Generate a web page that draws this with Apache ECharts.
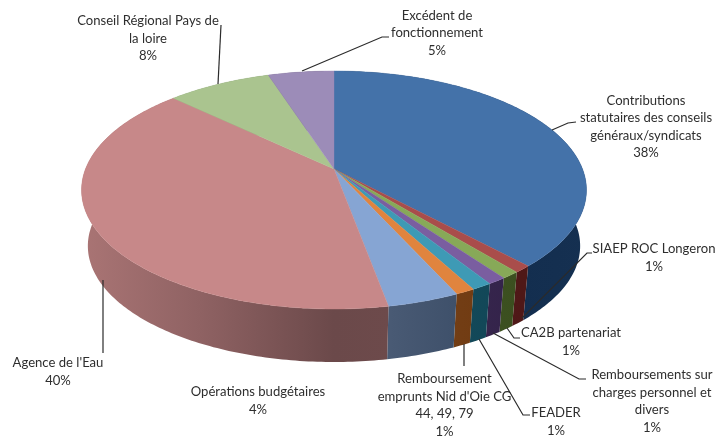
<!DOCTYPE html>
<html>
<head>
<meta charset="utf-8">
<style>
  html, body { margin: 0; padding: 0; background: #fff; }
  #chart { width: 715px; height: 436px; }
</style>
</head>
<body>
<div id="chart"></div>
<script src="https://cdn.jsdelivr.net/npm/echarts@6/dist/echarts.min.js"></script>
<script>
// data, clockwise from 12 o'clock
const categories = [
  'Contributions\nstatutaires des conseils\ngénéraux/syndicats',
  'SIAEP ROC Longeron',
  'CA2B partenariat',
  'Remboursements sur\ncharges personnel et\ndivers',
  'FEADER',
  "Remboursement\nemprunts Nid d'Oie CG\n44, 49, 79",
  'Opérations budgétaires',
  "Agence de l'Eau",
  'Conseil Régional Pays de\nla loire',
  'Excédent de\nfonctionnement'
]
const values = [38.1, 0.95, 1, 1, 1.1, 1.05, 3.9, 40, 7.9, 5]
const colors = ['#4472a9', '#a94d4b', '#87a958', '#7a5ea0', '#3e9ab5', '#e0843e', '#86a5d3', '#c78889', '#aac48f', '#9c8cb8']

// label centre and first line y, same order as categories
const labelPos = [
  [646, 100.5], [654, 249], [571, 333], [652, 375], [556, 413],
  [444.5, 379], [258, 392], [58, 363], [148, 21], [437, 15.5]
]
// leader lines are annotations, drawn in pixels
const leaders = [
  [[552, 130], [568, 123], [576, 122]],
  [[522, 318], [587, 253], [592, 253]],
  [[507, 328], [514, 338], [520, 338]],
  [[493, 333], [579, 379], [586, 379]],
  [[479, 339], [523, 415], [530, 415]],
  [[464, 344], [464, 366]],
  [[103, 280], [103, 353]],
  [[218, 84], [221, 25]],
  [[302, 71], [382, 37], [389, 37]]
]

// pie geometry: a tilted disc seen with some perspective
const cx = 334
const cy = 169
const R = 248.5
const B = 115.3
const K = 0.1765
const depth = 56.5
const baseScale = 0.975

const total = values.reduce((a, b) => a + b, 0)

function project(angle, isBase) {
  const u = Math.sin(angle)
  const v = Math.cos(angle)
  const w = 1 + K * v
  const s = isBase ? baseScale : 1
  return [cx + s * R * u / w, cy + (isBase ? depth : 0) - s * B * v / w]
}

function sliceAngles(i) {
  let before = 0
  for (let k = 0; k < i; k++) before += values[k]
  return [before / total * Math.PI * 2, (before + values[i]) / total * Math.PI * 2]
}

function rim(a0, a1, isBase) {
  const n = Math.max(2, Math.ceil((a1 - a0) / 0.015))
  const pts = []
  for (let k = 0; k <= n; k++) pts.push(project(a0 + (a1 - a0) * k / n, isBase))
  return pts
}

// side wall shading along x: [x, factor, offset]
const sideShade = [[85, 0.85, 0], [200, 0.72, 0], [334, 0.54, 0], [390, 0.56, 2], [460, 0.58, 16], [520, 0.6, 22], [590, 0.6, 20]]

function sideGradient(color) {
  const c = echarts.color.parse(color)
  const x0 = sideShade[0][0]
  const x1 = sideShade[sideShade.length - 1][0]
  const stops = sideShade.map(s => ({
    offset: (s[0] - x0) / (x1 - x0),
    color: 'rgb(' + [0, 1, 2].map(j => Math.max(0, Math.round(c[j] * s[1] - s[2]))).join(',') + ')'
  }))
  return new echarts.graphic.LinearGradient(x0, 0, x1, 0, stops, true)
}

function renderSide(params, api) {
  const i = api.value(0)
  const a = sliceAngles(i)
  const pts = rim(a[0], a[1], false).concat(rim(a[0], a[1], true).reverse())
  return { type: 'polygon', shape: { points: pts }, style: { fill: sideGradient(colors[i]) } }
}

function renderTop(params, api) {
  const i = api.value(0)
  const a = sliceAngles(i)
  const pts = [[cx, cy]].concat(rim(a[0], a[1], false))
  return { type: 'polygon', shape: { points: pts }, style: { fill: colors[i], stroke: colors[i], lineWidth: 0.4 } }
}

const sliceRows = values.map((v, i) => [i, v])

const labelElements = categories.map((name, i) => ({
  type: 'text',
  x: labelPos[i][0],
  y: labelPos[i][1] - 9,
  z: 10,
  style: {
    text: name + '\n' + Math.round(values[i] / total * 100) + '%',
    font: '13.1px Lato',
    fill: '#2e2e2e',
    align: 'center',
    verticalAlign: 'top',
    lineHeight: 17.6
  }
}))

const leaderElements = leaders.map(points => ({
  type: 'polyline',
  z: 9,
  shape: { points: points },
  style: { stroke: '#2b2b2b', lineWidth: 1.2, fill: null }
}))

const chart = echarts.init(document.getElementById('chart'))
chart.setOption({
  animation: false,
  backgroundColor: '#fff',
  series: [
    { type: 'custom', coordinateSystem: 'none', renderItem: renderSide, data: sliceRows, silent: true, z: 1 },
    { type: 'custom', coordinateSystem: 'none', renderItem: renderTop, data: sliceRows, silent: true, z: 2 }
  ],
  graphic: { elements: leaderElements.concat(labelElements) }
})
</script>
</body>
</html>
